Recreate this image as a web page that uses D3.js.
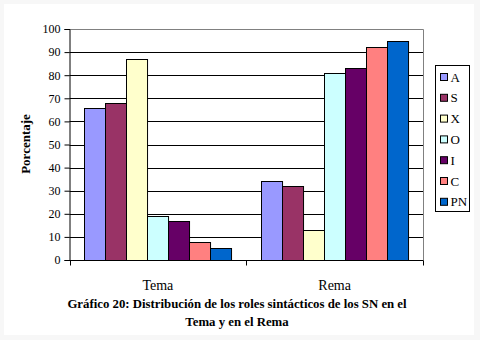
<!DOCTYPE html>
<html><head><meta charset="utf-8">
<script src="https://cdn.jsdelivr.net/npm/d3@7"></script>
<style>body{margin:0;background:#fff}svg{display:block}</style>
</head><body>
<svg id="c" width="480" height="340"></svg>
<script>
const categories = ["Tema", "Rema"];
const series = ["A", "S", "X", "O", "I", "C", "PN"];
const colors = ["#9999FF", "#993366", "#FFFFCC", "#CCFFFF", "#660066", "#FF8080", "#0066CC"];
const valuesTema = [66, 68, 87, 19, 17, 8, 5];
const valuesRema = [34, 32, 13, 81, 83, 92, 95];
const yTicks = [0, 10, 20, 30, 40, 50, 60, 70, 80, 90, 100];
const yLabel = "Porcentaje";
const titleLines = ["Gráfico 20: Distribución de los roles sintácticos de los SN en el", "Tema y en el Rema"];

const values = [valuesTema, valuesRema];
const svg = d3.select("#c");
const font = "'Liberation Serif','Times New Roman',Times,serif";

// background frame
svg.append("rect").attr("width", 480).attr("height", 340).attr("fill", "#f7f7f7");
svg.append("rect").attr("x", 4).attr("y", 4).attr("width", 470).attr("height", 331).attr("fill", "#fff");

const L = 69.5, R = 423, T = 29, B = 260;
const x0 = d3.scaleBand().domain(categories).range([L, R]).paddingInner(0).paddingOuter(0);
const x1 = d3.scaleBand().domain(series).range([0, x0.bandwidth()]).paddingInner(0).paddingOuter(0.7);
const y = d3.scaleLinear().domain([0, 100]).range([B, T]);

// gridlines
svg.append("g").selectAll("line").data(yTicks.filter(d => d > 0 && d < 100)).join("line")
  .attr("x1", L).attr("x2", R).attr("y1", d => Math.round(y(d)) + 0.5).attr("y2", d => Math.round(y(d)) + 0.5)
  .attr("stroke", "#000").attr("stroke-width", 1);
// plot border top/right
svg.append("path").attr("d", `M${L},${T + 0.5}H${R + 0.5}V${B}`).attr("fill", "none").attr("stroke", "#808080");

// bars
const g = svg.append("g");
categories.forEach((c, ci) => {
  g.append("g").selectAll("rect").data(values[ci]).join("rect")
    .attr("x", (d, i) => Math.round(x0(c) + x1(series[i])) + 0.5)
    .attr("y", d => Math.round(y(d)) + 0.5)
    .attr("width", x1.bandwidth())
    .attr("height", d => B - Math.round(y(d)))
    .attr("fill", (d, i) => colors[i])
    .attr("stroke", "#000").attr("stroke-width", 1);
});

// y axis
const ya = svg.append("g").attr("transform", `translate(${L},0)`)
  .call(d3.axisLeft(y).tickValues(yTicks).tickSize(5).tickPadding(4).tickFormat(d3.format("d")));
ya.attr("font-family", font);
ya.select(".domain").attr("stroke", "#000");
ya.selectAll("text").attr("font-family", font).attr("font-size", 12).attr("fill", "#000");

// x axis
const xa = svg.append("g").attr("transform", `translate(0,${B + 0.5})`);
xa.append("line").attr("x1", L).attr("x2", R + 0.5).attr("stroke", "#000");
xa.selectAll("line.t").data([L, L + x0.bandwidth(), R]).join("line").attr("class", "t")
  .attr("x1", d => Math.round(d) + 0.5).attr("x2", d => Math.round(d) + 0.5).attr("y1", 0).attr("y2", 5).attr("stroke", "#000");
svg.append("g").selectAll("text").data(categories).join("text")
  .attr("x", d => x0(d) + x0.bandwidth() / 2).attr("y", 290)
  .attr("text-anchor", "middle").attr("font-family", font).attr("font-size", 14).text(d => d);

// y label
svg.append("text").attr("transform", "translate(30,144) rotate(-90)")
  .attr("text-anchor", "middle").attr("font-family", font).attr("font-size", 13).attr("font-weight", "bold")
  .text(yLabel);

// title
svg.append("g").selectAll("text").data(titleLines).join("text")
  .attr("x", 237).attr("y", (d, i) => 308 + i * 17.5)
  .attr("text-anchor", "middle").attr("font-family", font).attr("font-size", 12.8).attr("font-weight", "bold")
  .text(d => d);

// legend
svg.append("rect").attr("x", 435.5).attr("y", 65.5).attr("width", 34).attr("height", 146)
  .attr("fill", "#fff").attr("stroke", "#000");
const lg = svg.append("g").selectAll("g").data(series).join("g")
  .attr("transform", (d, i) => `translate(440,${77 + i * 20.8})`);
lg.append("rect").attr("x", 0.5).attr("y", -3.5).attr("width", 7).attr("height", 7)
  .attr("fill", (d, i) => colors[i]).attr("stroke", "#000");
lg.append("text").attr("x", 10.5).attr("y", 4.5).attr("font-family", font).attr("font-size", 13).text(d => d);
</script>
</body></html>
